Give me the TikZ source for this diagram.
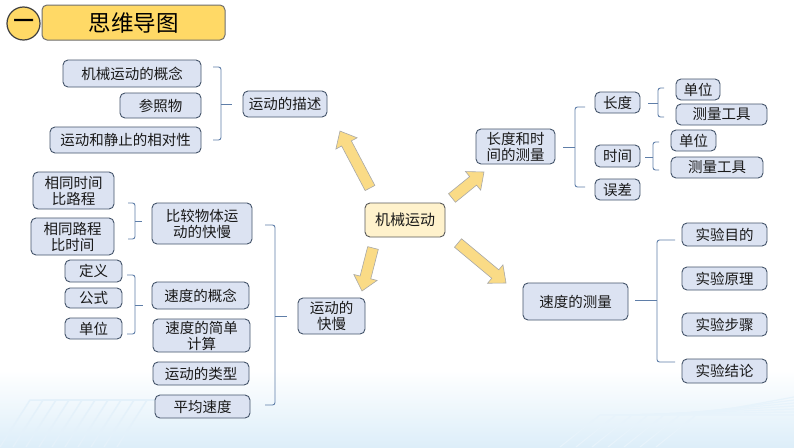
\documentclass[tikz,border=0pt]{standalone}
\usepackage{fontspec}
\setmainfont{Noto Sans CJK SC}
\newfontfamily\cjkbold[FakeBold=3]{Noto Sans CJK SC}
\usetikzlibrary{calc}
\definecolor{boxfill}{HTML}{DCE3F2}
\definecolor{boxdraw}{HTML}{44546A}
\definecolor{brk}{HTML}{5F7EA8}
\definecolor{hdr}{HTML}{FFD966}
\definecolor{hdrdraw}{HTML}{6E6E6E}
\definecolor{ctrfill}{HTML}{FFF2CC}
\definecolor{arrfill}{HTML}{FADB86}
\definecolor{arrdraw}{HTML}{A8A8A8}
\definecolor{bgblue}{HTML}{DDEEF9}
\tikzset{
  box/.style={draw=boxdraw, fill=boxfill, line width=0.9pt, rounded corners=5pt,
    inner sep=0pt, align=center, font=\fontsize{14.5}{16}\selectfont, text=black!90},
  ctrbox/.style={box, fill=ctrfill, draw=black!65, font=\fontsize{15}{16}\selectfont},
  brkline/.style={draw=brk, line width=0.9pt, rounded corners=2.5pt},
  arrshape/.style={fill=arrfill, draw=arrdraw, line width=0.6pt, line join=miter},
}
\newcommand\mybox[6][box]{\node[#1, minimum width=#4pt, minimum height=#5pt] (#2) at (#3) {#6};}
% bracket: vertical x, top y, bottom y, arm end x, tick y, tick end x
\newcommand\brk[6]{%
  \draw[brkline] (#4,#2) -- (#1,#2) -- (#1,#3) -- (#4,#3);
  \draw[brkline] (#1,#5) -- (#6,#5);}
% block arrow: tail coordinate, angle, length
\newcommand\blockarrow[3]{%
  \begin{scope}[shift={(#1)}, rotate=#2]
    \path[arrshape] (0,5.5) -- ({#3-14},5.5) -- ({#3-14},12) -- (#3,0)
      -- ({#3-14},-12) -- ({#3-14},-5.5) -- (0,-5.5) -- cycle;
  \end{scope}}
\begin{document}
\begin{tikzpicture}[x=1pt,y=-1pt]
\useasboundingbox (0,0) rectangle (794,447);
\fill[white] (0,0) rectangle (794,447);
\fill[top color=white, bottom color=bgblue] (0,370) rectangle (794,447);
\foreach \i in {0,...,9}{
  \draw[bgblue!80!white, line width=1.5pt] (\i*13,447) -- (\i*13+30,400) -- (\i*13+110,400);
}
\foreach \i in {0,...,6}{
  \draw[bgblue!70!white, line width=1.2pt] (560+\i*16,447) -- (600+\i*16,415) -- (794,415-\i*3);
}

% header
\node[circle, fill=hdr, draw=black!75, line width=1.2pt, minimum size=33pt, inner sep=0pt,
  font=\cjkbold\fontsize{20}{20}\selectfont] (num) at (23.5,23.5) {一};
\node[fill=hdr, draw=hdrdraw, line width=1pt, rounded corners=5pt, minimum width=183pt,
  minimum height=35pt, inner sep=0pt, font=\fontsize{22.5}{24}\selectfont] (title) at (133.5,22.5) {思维导图};

% centre
\mybox[ctrbox]{c}{405,220}{80}{34}{机械运动}

% top-left group
\mybox{n1}{132,73.5}{138}{27}{机械运动的概念}
\mybox{n2}{160.5,105.5}{81}{25}{参照物}
\mybox{n3}{125.5,140}{151}{26}{运动和静止的相对性}
\mybox{d}{285,104}{84}{26}{运动的描述}
\brk{221}{67}{140}{213}{104}{232}

% left-middle group
\mybox{a1}{73.5,190.5}{81}{37}{相同时间\\比路程}
\mybox{a2}{72.5,236.5}{83}{37}{相同路程\\比时间}
\brk{135}{203}{239}{128}{221}{142}
\mybox{p1}{202,223.5}{100}{41}{比较物体运\\动的快慢}
\mybox{s1}{93.5,271}{57}{22}{定义}
\mybox{s2}{93.5,298}{57}{20}{公式}
\mybox{s3}{93.5,328.5}{57}{21}{单位}
\brk{135}{275}{334}{127}{305}{143}
\mybox{p2}{200.5,295.5}{97}{27}{速度的概念}
\mybox{p3}{201.5,335.5}{97}{33}{速度的简单\\计算}
\mybox{p4}{201,373.5}{96}{23}{运动的类型}
\mybox{p5}{202.5,406.5}{95}{23}{平均速度}
\brk{275}{225}{405}{265}{316}{287}
\mybox{m}{331.5,316}{67}{36}{运动的\\快慢}

% right-top group
\mybox{r}{515.5,146.5}{79}{35}{长度和时\\间的测量}
\brk{575}{107}{187}{585}{147}{563}
\mybox{r1}{617.5,102.5}{45}{21}{长度}
\mybox{r2}{617.5,156}{45}{22}{时间}
\mybox{r3}{617.5,189.5}{45}{21}{误差}
\brk{658}{88}{117}{664}{103}{648}
\mybox{r11}{698,89.5}{44}{21}{单位}
\mybox{r12}{721.5,114.5}{91}{21}{测量工具}
\brk{653}{142}{170}{659}{157}{645}
\mybox{r21}{693.5,140.5}{45}{21}{单位}
\mybox{r22}{717,167.5}{92}{21}{测量工具}

% right-bottom group
\mybox{v}{575.5,301.5}{105}{37}{速度的测量}
\brk{657}{240}{362}{675}{300}{635}
\mybox{v1}{724.5,234.5}{85}{23}{实验目的}
\mybox{v2}{724.5,278.5}{85}{23}{实验原理}
\mybox{v3}{724.5,324.5}{85}{23}{实验步骤}
\mybox{v4}{724.5,371}{85}{24}{实验结论}

% block arrows
\coordinate (A1) at (370,188);
\coordinate (A2) at (452,198);
\coordinate (A3) at (373,248);
\coordinate (A4) at (458,243);
\blockarrow{A1}{117.8}{64.4}
\blockarrow{A2}{39.1}{41.2}
\blockarrow{A3}{255.6}{44.4}
\blockarrow{A4}{-39.8}{62.5}
\end{tikzpicture}
\end{document}
